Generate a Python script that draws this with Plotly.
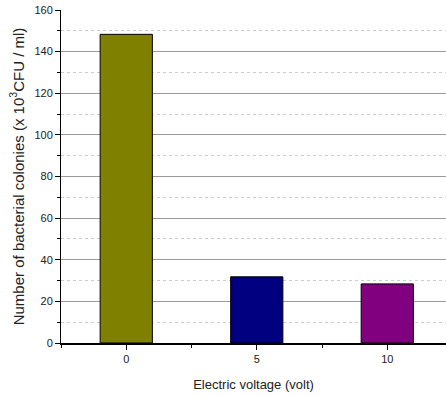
import plotly.graph_objects as go

categories = ["0", "5", "10"]
values = [148.3, 31.8, 28.4]
colors = ["#808000", "#000080", "#800080"]
y_ticks = [0, 20, 40, 60, 80, 100, 120, 140, 160]

x_pos = list(range(len(categories)))

fig = go.Figure(go.Bar(
    x=x_pos, y=values, width=0.4,
    marker=dict(color=colors, line=dict(color="black", width=1)),
))

fig.update_layout(
    width=446, height=396,
    margin=dict(l=61, r=0, t=10, b=53),
    paper_bgcolor="white", plot_bgcolor="white",
    font=dict(family="Liberation Sans, Arial, sans-serif", color="#222"),
    showlegend=False,
    xaxis=dict(
        range=[-0.5, 2.45], tickvals=x_pos, ticktext=categories,
        showgrid=False, zeroline=False,
        showline=True, linecolor="black", linewidth=2,
        ticks="outside", ticklen=5, tickcolor="black",
        tickfont=dict(size=11),
        minor=dict(tickvals=[-0.5, 0.5, 1.5], ticks="outside", ticklen=3, tickcolor="black", showgrid=False),
        title=dict(text="Electric voltage (volt)", font=dict(size=13), standoff=16),
    ),
    yaxis=dict(
        range=[0, 160], tickvals=y_ticks,
        showgrid=True, gridcolor="#999", gridwidth=1,
        zeroline=False,
        showline=True, linecolor="black", linewidth=1,
        ticks="outside", ticklen=5, tickcolor="black",
        tickfont=dict(size=11),
        minor=dict(dtick=10, tick0=0, ticks="outside", ticklen=3, tickcolor="black",
                   showgrid=True, gridcolor="#ccc", griddash="dot", gridwidth=1),
        title=dict(text="Number of bacterial colonies (x 10<sup>3</sup>CFU / ml)", font=dict(size=15), standoff=6),
    ),
)

fig.write_html("out.html", config={"displayModeBar": False},
               post_script="document.body.style.margin='0';document.body.style.overflow='hidden';")
